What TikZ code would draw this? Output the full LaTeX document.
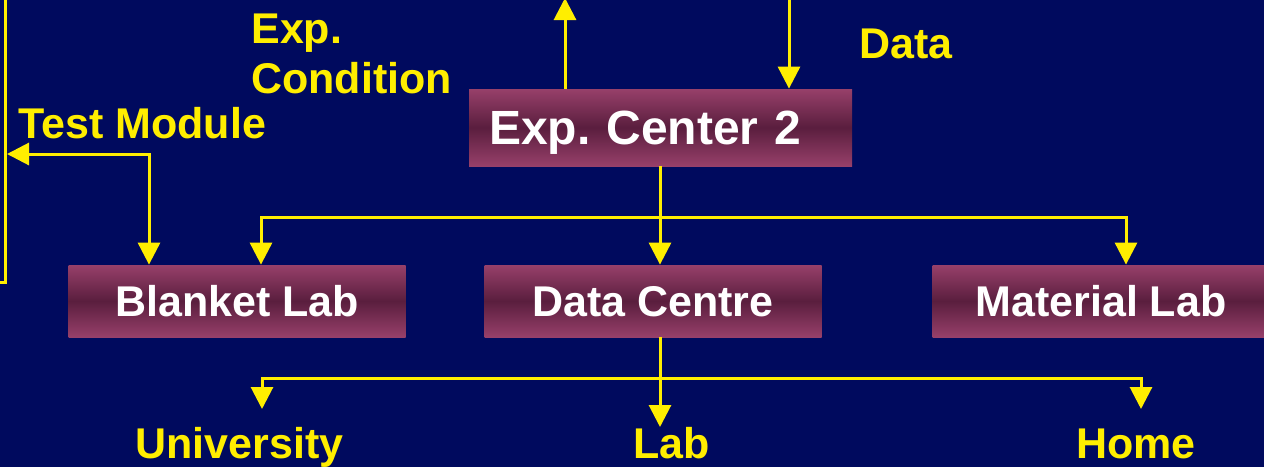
\documentclass[tikz,border=0pt]{standalone}
\usepackage{fontspec}
\setmainfont{Liberation Sans}
\usetikzlibrary{arrows.meta}
\frenchspacing
\definecolor{bgc}{RGB}{0,10,94}
\definecolor{pinkc}{RGB}{168,73,118}
\definecolor{darkc}{RGB}{90,30,62}
\definecolor{yel}{RGB}{255,238,0}
\pgfdeclareverticalshading{boxshade}{100bp}{color(0bp)=(pinkc); color(18bp)=(pinkc); color(50bp)=(darkc); color(82bp)=(pinkc); color(100bp)=(pinkc)}
\tikzset{
  box/.style={shading=boxshade, draw=none, text=white, font=\bfseries\fontsize{21.5}{25}\selectfont,
    minimum width=168.5pt, minimum height=36pt, inner sep=0pt, text height=15.4pt, text depth=0pt},
  lbl/.style={text=yel, font=\bfseries\fontsize{21.5}{25}\selectfont, inner sep=0pt, anchor=base west},
  conn/.style={draw=yel, line width=1.5pt},
  arr/.style={conn, -{Triangle[length=11pt,width=11pt]}},
  arrb/.style={conn, {Triangle[length=11pt,width=11pt]}-{Triangle[length=11pt,width=11pt]}}
}
\begin{document}
\begin{tikzpicture}[x=0.5pt,y=-0.5pt]
\useasboundingbox (0,0) rectangle (1264,467);
\fill[bgc] (0,0) rectangle (1264,467);
\clip (0,0) rectangle (1264,467);
% boxes
\node[box, minimum width=191.5pt, minimum height=38.5pt, text width=171.5pt, align=left, inner xsep=10pt,
  text height=17pt, font=\bfseries\fontsize{24}{28}\selectfont] (ec2) at (660.5,127.5) {Exp. Center 2};
\node[box] (bl) at (237,301) {Blanket Lab};
\node[box] (dc) at (653,301) {Data Centre};
\node[box] (ml) at (1101,301) {Material Lab};
% labels
\node[lbl] (exp) at (251,43) {Exp.};
\node[lbl] (cond) at (251,93) {Condition};
\node[lbl] (data) at (859,58) {Data};
\node[lbl] (tm) at (18,138) {Test Module};
\node[lbl] (univ) at (135,458) {University};
\node[lbl] (lab) at (633,458) {Lab};
\node[lbl] (home) at (1076,458) {Home};
% coordinates
\coordinate (upA) at (565,-2);
\coordinate (dnB) at (789,-4);
\coordinate (j1) at (660,217);
\coordinate (b1) at (261,217);
\coordinate (m1) at (1126,217);
\coordinate (tmL) at (7,154);
\coordinate (tmC) at (149,154);
\coordinate (lt) at (5,-5);
\coordinate (lb) at (5,282);
\coordinate (le) at (-5,282);
\coordinate (j2) at (660,378);
\coordinate (u2) at (262,409);
\coordinate (h2) at (1141,409);
\coordinate (l2) at (660,427);
% connectors
\draw[arr] (ec2.north -| upA) -- (upA);
\draw[arr] (dnB) -- (ec2.north -| dnB);
\draw[arr] (ec2.south -| j1) -- (dc.north -| j1);
\draw[arr] (j1) -| (bl.north -| b1);
\draw[arr] (j1) -| (ml.north -| m1);
\draw[arrb] (tmL) -- (tmC) -- (bl.north -| tmC);
\draw[conn] (lt) -- (lb) -- (le);
\draw[arr] (dc.south -| j2) -- (l2);
\draw[arr] (j2) -| (u2);
\draw[arr] (j2) -| (h2);
\end{tikzpicture}
\end{document}
